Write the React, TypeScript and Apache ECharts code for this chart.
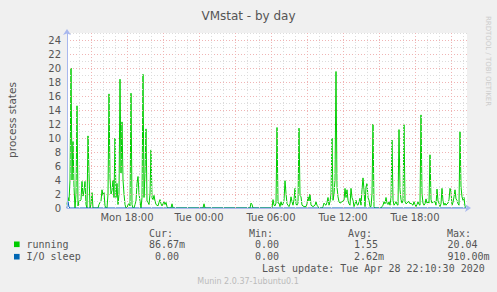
import React, { useEffect, useRef } from "react";
import * as echarts from "echarts";

// Time axis in hours counted from Mon 00:00; one sample every 5 minutes.
const START_HOUR = 13;
const STEP_HOURS = 5 / 60;
const SAMPLE_COUNT = 400;
const END_HOUR = START_HOUR + SAMPLE_COUNT * STEP_HOURS;

const Y_MIN = 0;
const Y_MAX = 25;

// running processes, one value per 5 minutes (Mon 13:00 .. Tue 22:15)
const running = [
  0.5, 1.5, 1, 4, 20.0, 4.0, 9.5, 3, 0, 2,
  14.6, 0.3, 1, 1, 1.2, 3.8, 1.7, 2.5, 3.8, 0.5,
  0, 10.3, 5, 0, 0.5, 2.2, 0, 0, 0, 0,
  0, 0, 0.5, 0.8, 1, 2.6, 1.8, 2.2, 0.3, 0,
  0, 2, 16.3, 4.3, 2, 2.5, 4, 1.5, 10, 1.5,
  3.5, 0.5, 2, 18.4, 5, 12.3, 4, 2, 0.5, 0,
  0, 0.5, 0.6, 0.3, 16.4, 0.5, 0, 0, 0.5, 1,
  3.5, 4.5, 2, 1, 0, 1.5, 19.1, 1.5, 5, 11.3,
  1, 0.8, 0.5, 2, 8.3, 1.5, 1.2, 1.8, 1, 0.5,
  0.4, 0.3, 0.8, 1.2, 0.6, 0.3, 0.6, 0.9, 0.5, 0.8,
  0.2, 0, 0, 0, 0, 0.6, 0, 0, 0, 0,
  0, 0, 0, 0, 0, 0, 0, 0, 0, 0,
  0, 0, 0, 0, 0, 0, 0, 0, 0, 0,
  0, 0, 0, 0, 0, 0, 0, 0.6, 0, 0,
  0, 0, 0, 0, 0, 0, 0, 0, 0, 0,
  0, 0, 0, 0, 0, 0, 0, 0, 0, 0,
  0, 0, 0, 0, 0, 0, 0, 0, 0, 0,
  0, 0, 0, 0, 0, 0, 0, 0, 0, 0,
  0, 0, 0, 0, 0.7, 0.5, 0, 0, 0, 0,
  0, 0, 0, 0, 0, 0, 0, 0, 0, 0,
  0, 0, 0, 0, 0, 0, 1.2, 0.4, 0.3, 0.7,
  11.5, 0.7, 0.7, 0.2, 0.9, 0.4, 0.6, 1.1, 3.9, 2.1,
  0.6, 0.4, 0.2, 0.6, 1.6, 0.9, 0.4, 1.2, 2.8, 0.6,
  0.4, 0.7, 11.4, 1.8, 1.6, 0.4, 0.3, 0.2, 0.2, 0.2,
  0.6, 1.6, 1, 2.0, 0.4, 0.3, 0.2, 0.3, 0.4, 0.9,
  0.4, 0.2, 0, 0, 0, 0, 0.2, 0.7, 0.5, 0.4,
  0.8, 1.5, 0.4, 0.9, 2, 10.0, 1.1, 2, 4, 19.5,
  3, 1.6, 0.9, 0.7, 0.8, 0.9, 1, 1.1, 2.8, 1.5,
  2.6, 1.1, 0.6, 0.4, 2.8, 1.5, 1.1, 0.2, 0.6, 1.1,
  0.5, 0.4, 0.9, 1.4, 0.4, 2.6, 4.3, 2.6, 0.2, 3.0,
  3.5, 1.5, 1.1, 0.2, 0.2, 2, 12.0, 0.2, 0, 0,
  0, 0, 0, 0, 0, 0.2, 0.4, 0.9, 0.6, 1.5,
  0.7, 0.5, 0.9, 0.4, 1.5, 9.7, 1.1, 0.4, 0.6, 0.9,
  0.5, 0.4, 11.2, 2.6, 1.2, 0.7, 1.1, 11.9, 0.9, 0.6,
  0.7, 0.9, 0.9, 0.6, 0.7, 0.5, 0.4, 0.9, 0.5, 0.2,
  0.5, 0.9, 0.5, 0.4, 13.3, 2, 0.7, 0.4, 0.6, 1.3,
  0.7, 0.9, 0.7, 7.6, 1.2, 0.7, 0.9, 0.9, 0.9, 0.4,
  2.7, 1, 0.7, 0.2, 0.6, 2.8, 1, 0.4, 0.7, 0.4,
  0.6, 0.7, 1.2, 2.8, 2.3, 0.4, 0.8, 1.6, 2.6, 1.3,
  1.1, 0.6, 0.4, 10.9, 3, 1.6, 1.1, 1.5, 0.2, 0.087,
];

// I/O sleep: only a tiny blip at the very start, zero afterwards
const ioSleepStart = [0, 0.91, 0.14];
const ioSleep = running.map((_, i) => (i < ioSleepStart.length ? ioSleepStart[i] : 0));

const xLabelHours = [18, 24, 30, 36, 42];
const dayNames = ["Mon", "Tue"];

const seriesNames = ["running", "I/O sleep"];
const curValues = ["86.67m", "0.00"];
const minValues = ["0.00", "0.00"];
const avgValues = ["1.55", "2.62m"];
const maxValues = ["20.04", "910.00m"];
const statHeaders = ["Cur:", "Min:", "Avg:", "Max:"];
const lastUpdate = "Last update: Tue Apr 28 22:10:30 2020";
const titleText = "VMstat - by day";
const yAxisTitle = "process states";
const sideText = "RRDTOOL / TOBI OETIKER";
const footerText = "Munin 2.0.37-1ubuntu0.1";

const COLORS = ["#00cc00", "#0066b3"];
const FONT = "#555555";
const GRID_GREY = "#dcdcdc";
const GRID_RED = "#f0b4b4";
const AXIS = "#a9b8ee";

const MONO = "'DejaVu Sans Mono', monospace";
const SANS = "'DejaVu Sans', sans-serif";

function toPoints(values: number[]) {
  return values.map((v, i) => [START_HOUR + i * STEP_HOURS, v]);
}

function hourLabel(h: number) {
  const day = dayNames[Math.floor(h / 24)];
  const hh = String(h % 24).padStart(2, "0");
  return `${day} ${hh}:00`;
}

export default function App() {
  const ref = useRef<HTMLDivElement>(null);

  useEffect(() => {
    if (!ref.current) return;
    const chart = echarts.init(ref.current, undefined, { renderer: "svg" });

    const monoText = (text: string, x: number, y: number, align = "left") => ({
      type: "text",
      x,
      y,
      silent: true,
      style: {
        text,
        fill: FONT,
        fontFamily: MONO,
        fontSize: 10,
        align,
        verticalAlign: "middle",
      },
    });

    const rowY = [244.3, 256.7];
    const colX = {
      head: [149, 249, 348, 447],
      cur: [149, 155],
      min: [255, 255],
      avg: [354, 354],
      max: [447.5, 447.5],
    };

    const graphics: any[] = [];
    statHeaders.forEach((h, i) => graphics.push(monoText(h, colX.head[i], 233)));
    seriesNames.forEach((name, i) => {
      graphics.push({
        type: "rect",
        shape: { x: 14, y: rowY[i] - 2.8, width: 5.6, height: 5.6 },
        style: { fill: COLORS[i] },
        silent: true,
      });
      graphics.push(monoText(name, 26.5, rowY[i]));
      graphics.push(monoText(curValues[i], colX.cur[i], rowY[i]));
      graphics.push(monoText(minValues[i], colX.min[i], rowY[i]));
      graphics.push(monoText(avgValues[i], colX.avg[i], rowY[i]));
      graphics.push(monoText(maxValues[i], colX.max[i], rowY[i]));
    });
    graphics.push(monoText(lastUpdate, 262, 268.7));
    graphics.push({
      type: "text",
      x: 248,
      y: 281,
      silent: true,
      style: {
        text: footerText,
        fill: "#bbbbbb",
        fontFamily: SANS,
        fontSize: 8,
        align: "center",
        verticalAlign: "middle",
      },
    });
    graphics.push({
      type: "text",
      x: 12,
      y: 120,
      rotation: Math.PI / 2,
      silent: true,
      style: {
        text: yAxisTitle,
        fill: FONT,
        fontFamily: SANS,
        fontSize: 10.5,
        align: "center",
        verticalAlign: "middle",
      },
    });
    graphics.push({
      type: "text",
      x: 488,
      y: 61,
      rotation: -Math.PI / 2,
      silent: true,
      style: {
        text: sideText,
        fill: "#cccccc",
        fontFamily: SANS,
        fontSize: 7,
        align: "center",
        verticalAlign: "middle",
      },
    });

    chart.setOption({
      animation: false,
      backgroundColor: "#f0f0f0",
      title: {
        text: titleText,
        left: "center",
        top: 5,
        textStyle: { color: FONT, fontFamily: SANS, fontSize: 12, fontWeight: "normal" },
      },
      grid: {
        left: 67,
        top: 33,
        right: 30,
        bottom: 84,
        show: true,
        backgroundColor: "#ffffff",
        borderWidth: 0,
      },
      xAxis: {
        type: "value",
        min: START_HOUR,
        max: END_HOUR,
        interval: 1,
        z: 3,
        axisLine: {
          show: true,
          symbol: ["none", "arrow"],
          symbolSize: [6, 6],
          symbolOffset: [0, 4],
          lineStyle: { color: AXIS, width: 1 },
        },
        axisTick: { show: false },
        axisLabel: {
          color: FONT,
          fontFamily: SANS,
          fontSize: 10,
          margin: 4,
          formatter: (v: number) => (xLabelHours.includes(Math.round(v)) ? hourLabel(Math.round(v)) : ""),
        },
        splitLine: {
          show: true,
          showMinLine: true,
          showMaxLine: false,
          lineStyle: { color: [GRID_GREY, GRID_GREY, GRID_RED], type: [1, 2], width: 1 },
        },
      },
      yAxis: {
        type: "value",
        min: Y_MIN,
        max: Y_MAX,
        interval: 1,
        z: 3,
        axisLine: {
          show: true,
          symbol: ["none", "arrow"],
          symbolSize: [6, 6],
          symbolOffset: [0, 4],
          lineStyle: { color: AXIS, width: 1 },
        },
        axisTick: { show: false },
        axisLabel: {
          color: FONT,
          fontFamily: SANS,
          fontSize: 10,
          margin: 6,
          formatter: (v: number) => (Math.round(v) % 2 === 0 ? String(Math.round(v)) : ""),
        },
        splitLine: {
          show: true,
          showMinLine: true,
          showMaxLine: true,
          lineStyle: { color: [GRID_RED, GRID_GREY], type: [1, 2], width: 1 },
        },
      },
      series: [
        {
          name: seriesNames[0],
          type: "line",
          data: toPoints(running),
          showSymbol: false,
          symbol: "none",
          lineStyle: { color: COLORS[0], width: 1 },
          itemStyle: { color: COLORS[0] },
          z: 2,
        },
        {
          name: seriesNames[1],
          type: "line",
          data: toPoints(ioSleep),
          showSymbol: false,
          symbol: "none",
          lineStyle: { color: COLORS[1], width: 1 },
          itemStyle: { color: COLORS[1] },
          z: 2,
        },
      ],
      graphic: graphics,
    });

    return () => chart.dispose();
  }, []);

  return (
    <div
      ref={ref}
      style={{ position: "fixed", left: 0, top: 0, width: 497, height: 292 }}
    />
  );
}
